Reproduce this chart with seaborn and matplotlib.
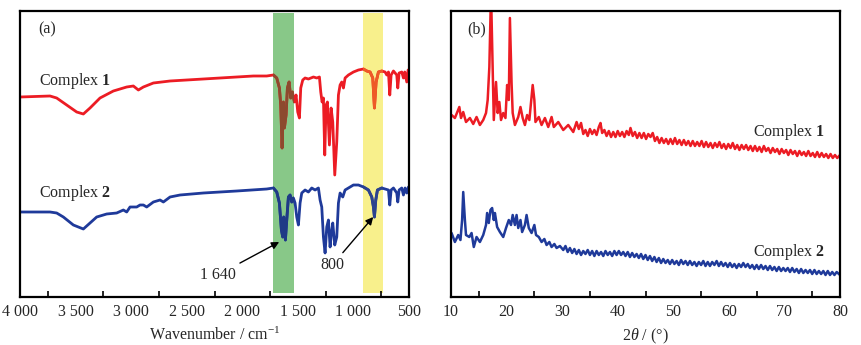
import matplotlib
matplotlib.use("Agg")
import matplotlib.pyplot as plt
from matplotlib.ticker import MultipleLocator, FuncFormatter
import seaborn as sns

# IR spectra (wavenumber / cm-1, arbitrary transmittance offset)
ir1_wn = [4000, 3730, 3670, 3580, 3490, 3430, 3370, 3280, 3160, 3040, 2980, 2935, 2890,
          2800, 2650, 2500, 2200, 1900, 1780, 1720, 1690, 1666, 1654, 1642, 1630, 1621,
          1606, 1594, 1579, 1564, 1549, 1531, 1516, 1501, 1486, 1474, 1456, 1435, 1405,
          1360, 1330, 1306, 1294, 1282, 1270, 1258, 1246, 1234, 1216, 1201, 1186, 1168,
          1150, 1135, 1120, 1105, 1090, 1075, 1045, 1000, 955, 910, 880, 850, 826, 811,
          796, 775, 745, 715, 700, 685, 673, 661, 640, 610, 601, 589, 565, 550, 538, 520,
          508, 500]
ir1_t = [200, 201, 199, 192, 185, 183, 189, 199, 206, 210, 211, 207, 210,
         214, 216, 217, 219, 221, 221, 222, 219, 209, 192, 149, 195, 169,
         182, 209, 215, 199, 205, 195, 202, 185, 179, 209, 217, 219, 218,
         220, 219, 220, 205, 195, 199, 142, 192, 195, 152, 189, 175, 122,
         155, 202, 212, 215, 209, 219, 222, 225, 227, 228, 226, 225, 219, 189,
         215, 225, 226, 225, 222, 225, 202, 222, 226, 222, 209, 224, 225, 219, 225, 215,
         227, 227]

ir2_wn = [4000, 3730, 3670, 3610, 3520, 3430, 3370, 3310, 3220, 3130, 3070, 3040, 3010,
          2950, 2920, 2890, 2860, 2800, 2740, 2710, 2650, 2560, 2350, 2050, 1780, 1720,
          1690, 1666, 1648, 1636, 1627, 1612, 1600, 1585, 1570, 1555, 1540, 1525, 1510,
          1495, 1480, 1465, 1435, 1405, 1375, 1345, 1315, 1300, 1285, 1270, 1255, 1240,
          1225, 1210, 1198, 1186, 1168, 1150, 1135, 1120, 1096, 1075, 1045, 1000, 955,
          910, 865, 835, 820, 811, 799, 784, 745, 715, 685, 673, 661, 640, 610, 601, 589,
          565, 550, 535, 520, 505, 500]
ir2_t = [85, 85, 84, 80, 72, 68, 74, 80, 83, 84, 87, 85, 90,
         90, 92, 92, 90, 95, 97, 95, 100, 102, 104, 106, 108, 109,
         105, 94, 67, 60, 80, 57, 77, 100, 102, 95, 99, 94, 80,
         72, 94, 104, 107, 105, 109, 107, 109, 97, 90, 60, 44, 70,
         77, 50, 64, 74, 52, 60, 94, 104, 100, 107, 109, 112, 112,
         110, 107, 100, 90, 80, 97, 107, 109, 108, 107, 92, 107, 109, 104, 95, 107,
         109, 102, 109, 104, 110, 110]

# XRD patterns (2theta / deg, intensity offset)
xrd1_x = [10.1, 10.7, 11.5, 11.8, 12.2, 12.7, 13.4, 14.0, 14.6, 15.2, 15.8, 16.3, 16.6,
          16.9, 17.2, 17.5, 17.7, 18.1, 18.4, 18.7, 19.0, 19.4, 19.8, 20.1, 20.4, 20.6,
          20.9, 21.1, 21.5, 22.1, 22.5, 22.9, 23.3, 23.7, 24.1, 24.5, 24.7, 25.0, 25.2,
          25.8, 26.3, 26.9, 27.5, 28.1, 28.5, 29.3, 30.2, 31.1, 32.0, 32.6,
          33.0, 33.4, 33.8, 34.2, 34.6, 35.0, 35.4, 35.8, 36.2, 36.6, 36.9, 37.2, 37.6,
          38.0, 38.4, 38.8, 39.2, 39.6, 40.0, 40.4, 40.8, 41.2, 41.6, 42.0, 42.3, 42.7,
          43.1, 43.5, 43.9, 44.3, 44.7, 45.1, 45.5, 45.9, 46.3, 46.7, 47.1, 47.5, 47.9,
          48.3, 48.7, 49.1, 49.5, 49.9, 50.3, 50.7, 51.1, 51.5, 51.9, 52.3, 52.7, 53.1,
          53.5, 53.9, 54.3, 54.7, 55.1, 55.5, 55.9, 56.3, 56.7, 57.1, 57.5, 57.9, 58.3,
          58.7, 59.1, 59.5, 59.9, 60.3, 60.7, 61.1, 61.5, 61.9, 62.3, 62.7, 63.1, 63.5,
          63.9, 64.3, 64.7, 65.1, 65.5, 65.9, 66.3, 66.7, 67.1, 67.5, 67.9, 68.3, 68.7,
          69.1, 69.5, 69.9, 70.3, 70.7, 71.1, 71.5, 71.9, 72.3, 72.7, 73.1, 73.5, 73.9,
          74.3, 74.7, 75.1, 75.5, 75.9, 76.3, 76.7, 77.1, 77.5, 77.9, 78.3, 78.7, 79.1,
          79.5, 80.0]
xrd1_i = [182, 179, 190, 179, 185, 175, 179, 173, 180, 172, 177, 184, 197,
          230, 305, 230, 177, 215, 184, 195, 177, 184, 179, 212, 197, 279,
          214, 184, 172, 180, 190, 179, 172, 182, 177, 200, 212, 197, 175,
          180, 172, 179, 170, 180, 170, 175, 167, 172, 165, 175,
          168, 174, 163, 167, 161, 168, 163, 167, 162, 170, 174, 164, 167,
          161, 166, 160, 165, 160, 166, 161, 165, 160, 166, 162, 169, 161,
          165, 159, 164, 159, 164, 158, 163, 160, 164, 156, 160, 154, 159,
          154, 158, 153, 158, 153, 159, 153, 157, 152, 157, 152, 156, 151,
          156, 151, 155, 151, 156, 150, 155, 150, 154, 149, 154, 150, 155,
          149, 153, 148, 153, 149, 154, 148, 152, 147, 152, 148, 152, 147,
          151, 146, 151, 146, 150, 145, 151, 146, 149, 144, 149, 145, 148,
          143, 148, 144, 147, 142, 147, 143, 146, 141, 146, 142, 145, 141,
          146, 141, 144, 140, 145, 140, 144, 140, 143, 139, 143, 139, 142,
          139, 142]

xrd2_x = [10.1, 10.7, 11.3, 11.7, 12.0, 12.2, 12.5, 12.7, 13.3, 13.7, 14.1, 14.6, 15.2,
          15.8, 16.3, 16.5, 16.8, 17.1, 17.4, 17.7, 17.9, 18.3, 18.8, 19.4, 19.9, 20.4,
          20.8, 21.1, 21.5, 21.8, 22.1, 22.5, 22.8, 23.3, 23.6, 24.0, 24.5, 25.0, 25.3,
          25.8, 26.3, 26.8, 27.2, 27.7, 28.1, 28.6, 29.0, 29.6,
          30.2, 30.6, 31.0, 31.4, 31.8, 32.2, 32.6, 33.0, 33.4, 33.8, 34.2, 34.6, 35.0,
          35.4, 35.8, 36.2, 36.6, 37.0, 37.4, 37.8, 38.2, 38.6, 39.0, 39.4, 39.8, 40.2,
          40.6, 41.0, 41.4, 41.8, 42.2, 42.6, 43.0, 43.4, 43.8, 44.2, 44.6, 45.0, 45.4,
          45.8, 46.2, 46.6, 47.0, 47.4, 47.8, 48.2, 48.6, 49.0, 49.4, 49.8, 50.2, 50.6,
          51.0, 51.4, 51.8, 52.2, 52.6, 53.0, 53.4, 53.8, 54.2, 54.6, 55.0, 55.4, 55.8,
          56.2, 56.6, 57.0, 57.4, 57.8, 58.2, 58.6, 59.0, 59.4, 59.8, 60.2, 60.6, 61.0,
          61.4, 61.8, 62.2, 62.6, 63.0, 63.4, 63.8, 64.2, 64.6, 65.0, 65.4, 65.8, 66.2,
          66.6, 67.0, 67.4, 67.8, 68.2, 68.6, 69.0, 69.4, 69.8, 70.2, 70.6, 71.0, 71.4,
          71.8, 72.2, 72.6, 73.0, 73.4, 73.8, 74.2, 74.6, 75.0, 75.4, 75.8, 76.2, 76.6,
          77.0, 77.4, 77.8, 78.2, 78.6, 79.0, 79.4, 80.0]
xrd2_i = [64, 55, 62, 57, 77, 105, 77, 62, 60, 64, 50, 60, 55,
          62, 72, 84, 74, 87, 89, 77, 84, 70, 65, 60, 69, 77,
          72, 82, 72, 82, 69, 77, 65, 72, 82, 69, 64, 72, 62,
          60, 55, 58, 52, 55, 50, 53, 49, 51,
          47, 51, 45, 49, 44, 48, 43, 47, 42, 46, 43, 47, 42,
          46, 41, 46, 42, 45, 41, 46, 42, 45, 41, 46, 42, 46,
          42, 45, 41, 45, 40, 44, 40, 43, 39, 43, 38, 42, 37,
          41, 36, 40, 35, 39, 34, 38, 34, 37, 33, 37, 33, 36,
          32, 37, 33, 36, 32, 36, 32, 35, 31, 35, 32, 36, 31,
          35, 31, 35, 32, 36, 31, 35, 31, 34, 30, 34, 30, 33,
          29, 33, 30, 34, 30, 33, 29, 32, 28, 32, 28, 32, 28,
          31, 27, 31, 27, 30, 26, 30, 26, 29, 26, 29, 25, 29,
          25, 28, 24, 28, 24, 27, 24, 27, 23, 27, 23, 26, 23,
          26, 22, 26, 22, 25, 22, 25, 22]

RED = "#ec1c24"
BLUE = "#1f3a9a"
GREEN_BAND = "#88c888"
YELLOW_BAND = "#f8f08c"
# line colours seen through the bands
RED_IN_GREEN = "#8c4a2e"
BLUE_IN_GREEN = "#1f3a86"
RED_IN_YELLOW = "#ee5a26"
BLUE_IN_YELLOW = "#2c428e"

sns.set_theme(style="ticks")
plt.rcParams["font.family"] = ["Liberation Serif", "DejaVu Serif"]
plt.rcParams["mathtext.fontset"] = "custom"
plt.rcParams["mathtext.rm"] = "Liberation Serif"
plt.rcParams["mathtext.it"] = "Liberation Serif:italic"
plt.rcParams["mathtext.bf"] = "Liberation Serif:bold"
FS = 11.5

fig = plt.figure(figsize=(8.61, 3.45), dpi=100)
ax1 = fig.add_axes([20 / 861, 48 / 345, 389 / 861, 286 / 345])
ax2 = fig.add_axes([451 / 861, 48 / 345, 389 / 861, 286 / 345])

# (a) IR
green = ax1.axvspan(1535, 1722, ymin=0.014, ymax=0.993, color=GREEN_BAND, lw=0, zorder=0.5)
yellow = ax1.axvspan(735, 912, ymin=0.014, ymax=0.993, color=YELLOW_BAND, lw=0, zorder=0.5)
sns.lineplot(x=ir1_wn, y=ir1_t, ax=ax1, color=RED, lw=2.0, estimator=None, sort=False)
sns.lineplot(x=ir2_wn, y=ir2_t, ax=ax1, color=BLUE, lw=2.0, estimator=None, sort=False)
for wn, t, col, band in [(ir1_wn, ir1_t, RED_IN_GREEN, green),
                         (ir2_wn, ir2_t, BLUE_IN_GREEN, green),
                         (ir1_wn, ir1_t, RED_IN_YELLOW, yellow),
                         (ir2_wn, ir2_t, BLUE_IN_YELLOW, yellow)]:
    sns.lineplot(x=wn, y=t, ax=ax1, color=col, lw=2.0, estimator=None, sort=False)
    ax1.lines[-1].set_clip_path(band)

ax1.set_xlim(4000, 500)
ax1.set_ylim(0, 286)
ax1.xaxis.set_major_locator(MultipleLocator(500))
ax1.xaxis.set_minor_locator(MultipleLocator(250))
ax1.xaxis.set_major_formatter(FuncFormatter(lambda v, p: f"{int(v):,}".replace(",", " ")))
ax1.set_xlabel("Wavenumber / cm$^{-1}$", fontsize=FS, labelpad=5)
ax1.text(0.046, 0.937, "(a)", transform=ax1.transAxes, fontsize=FS, va="center")
ax1.text(3829, 216, "Complex $\\mathbf{1}$", fontsize=FS, va="center")
ax1.text(3829, 104, "Complex $\\mathbf{2}$", fontsize=FS, va="center")
arrow = dict(arrowstyle="-|>", color="black", lw=1.0, mutation_scale=11, shrinkA=1, shrinkB=0)
ax1.annotate("1 640", xy=(1668, 55), xytext=(2060, 22), fontsize=FS,
             ha="right", va="center", arrowprops=arrow, zorder=5)
ax1.annotate("800", xy=(822, 80), xytext=(1190, 32), fontsize=FS,
             ha="center", va="center", arrowprops=arrow, zorder=5)

# (b) XRD
sns.lineplot(x=xrd1_x, y=xrd1_i, ax=ax2, color=RED, lw=1.8, estimator=None, sort=False)
sns.lineplot(x=xrd2_x, y=xrd2_i, ax=ax2, color=BLUE, lw=1.8, estimator=None, sort=False)
ax2.set_xlim(10, 80)
ax2.set_ylim(0, 286)
ax2.xaxis.set_major_locator(MultipleLocator(10))
ax2.xaxis.set_minor_locator(MultipleLocator(5))
ax2.set_xlabel("2$\\it{\\theta}$ / (°)", fontsize=FS, labelpad=5)
ax2.text(0.041, 0.937, "(b)", transform=ax2.transAxes, fontsize=FS, va="center")
ax2.text(77.3, 165, "Complex $\\mathbf{1}$", fontsize=FS, va="center", ha="right")
ax2.text(77.3, 45, "Complex $\\mathbf{2}$", fontsize=FS, va="center", ha="right")

for ax in (ax1, ax2):
    ax.set_yticks([])
    ax.set_ylabel("")
    ax.tick_params(axis="x", which="major", length=0, pad=5, labelsize=FS)
    ax.tick_params(axis="x", which="minor", direction="in", length=4, width=1.2, color="black")
    for s in ax.spines.values():
        s.set_linewidth(1.6)
        s.set_color("black")
        s.set_visible(True)
        s.set_zorder(6)

fig.savefig("out.png", dpi=100)
